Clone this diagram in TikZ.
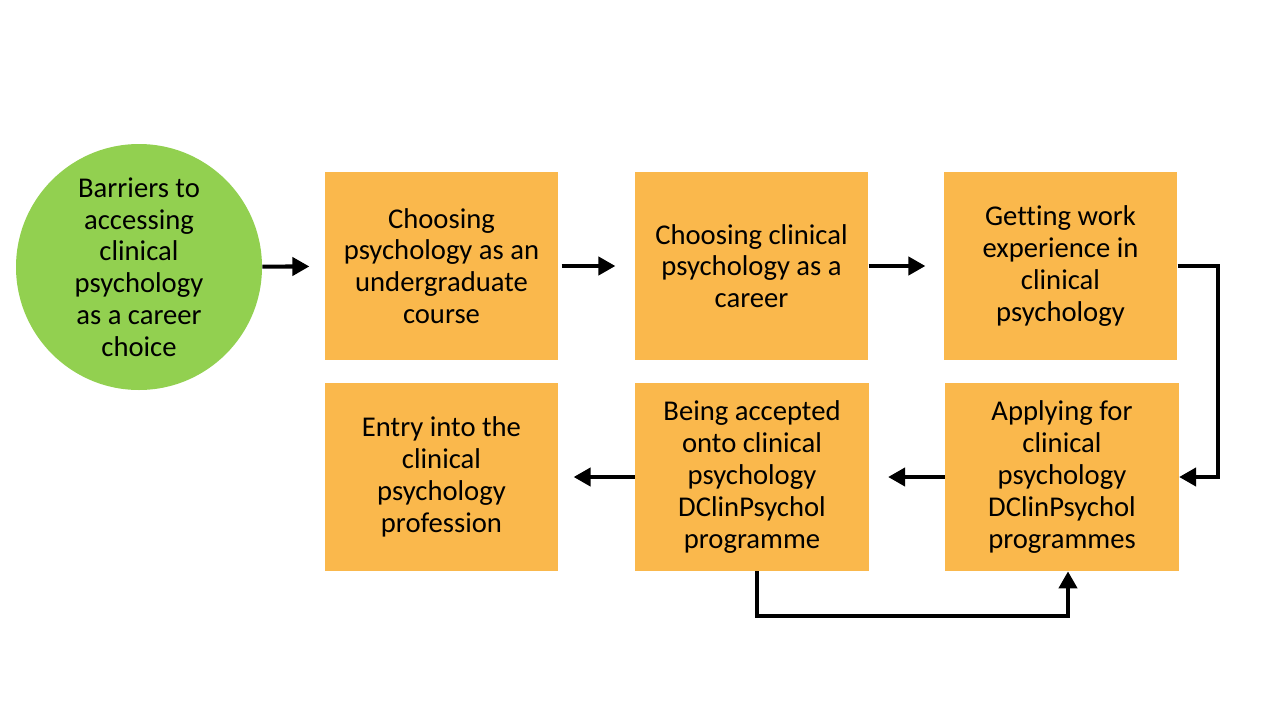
\documentclass[tikz,border=0pt]{standalone}
\usepackage{fontspec}
\setmainfont{Carlito}[Ligatures=NoCommon]
\usepackage{tikz}
\usetikzlibrary{arrows.meta,positioning,calc}
\definecolor{orangebox}{HTML}{FAB84C}
\definecolor{vertrond}{HTML}{92D050}

\begin{document}
\begin{tikzpicture}[
  etape/.style={fill=orangebox,minimum width=4.67cm,minimum height=3.76cm,inner sep=0pt,align=center,font=\fontsize{16.3}{18.1}\selectfont},
  debut/.style={circle,fill=vertrond,minimum size=4.92cm,inner sep=0pt,align=center,font=\fontsize{16.3}{18.1}\selectfont},
  fleche/.style={-{Triangle[length=0.34cm,width=0.36cm]},line width=2.3pt,black}]
  \useasboundingbox (0,0) rectangle (25.6,-14.4);
  % Cercle de depart
  \node[debut] (bar) at (2.78,-5.34) {Barriers to\\accessing\\clinical\\psychology\\as a career\\choice};
  % Ligne du haut
  \node[etape] (ug) at (8.83,-5.32) {Choosing\\psychology as an\\undergraduate\\course};
  \node[etape] (car) at (15.03,-5.32) {Choosing clinical\\psychology as a\\career};
  \node[etape] (work) at (21.21,-5.32) {Getting work\\experience in\\clinical\\psychology};
  % Ligne du bas
  \node[etape] (entry) at (8.83,-9.54) {Entry into the\\clinical\\psychology\\profession};
  \node[etape] (acc) at (15.04,-9.54) {Being accepted\\onto clinical\\psychology\\DClinPsychol\\programme};
  \node[etape] (app) at (21.24,-9.54) {Applying for\\clinical\\psychology\\DClinPsychol\\programmes};
  % Fleches
  \draw[fleche,shorten >=0.3cm] (bar) -- (ug);
  \draw[fleche,shorten <=0.06cm,shorten >=0.38cm] (ug) -- (car);
  \draw[fleche,shorten >=0.36cm] (car) -- (work);
  \draw[fleche] (work.east) -- ++(0.8,0) |- (app.east);
  \draw[fleche,shorten >=0.38cm] (app) -- (acc);
  \draw[fleche,shorten >=0.3cm] (acc) -- (entry);
  \draw[fleche] ([xshift=0.1cm]acc.south) -- ++(0,-0.9) -| ([xshift=0.12cm]app.south);
\end{tikzpicture}
\end{document}
